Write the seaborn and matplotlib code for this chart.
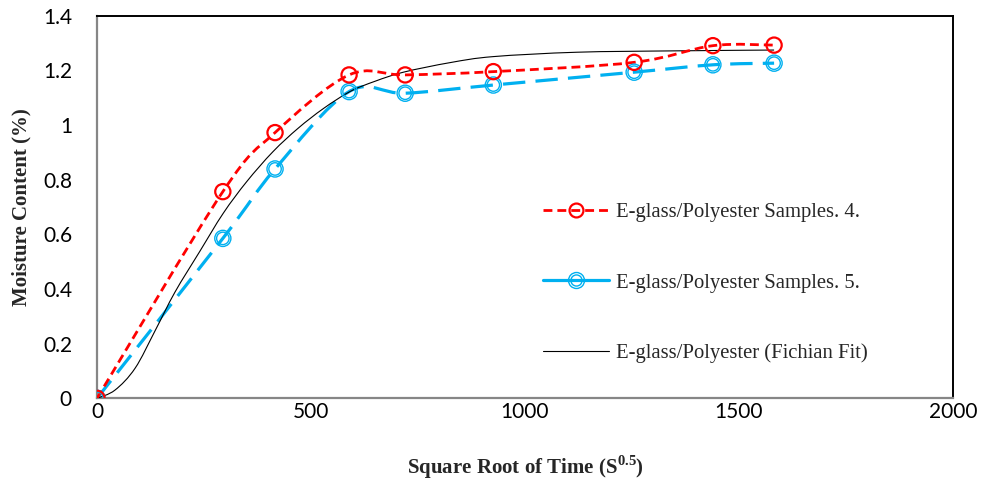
import numpy as np
import pandas as pd
import matplotlib
matplotlib.use("Agg")
import matplotlib.pyplot as plt
from matplotlib.path import Path
from matplotlib.patches import PathPatch
from matplotlib.lines import Line2D
from matplotlib.legend_handler import HandlerTuple
import seaborn as sns

# ---- data ----
time_s4 = [0, 294, 416, 589, 720, 926, 1255, 1439, 1582]
moist_s4 = [0, 0.756, 0.972, 1.183, 1.183, 1.195, 1.229, 1.290, 1.292]
time_s5 = [0, 294, 416, 589, 720, 926, 1255, 1439, 1582]
moist_s5 = [0, 0.585, 0.839, 1.122, 1.116, 1.146, 1.193, 1.220, 1.226]
time_fit = [0, 42, 89, 136, 182, 240, 295, 350, 411, 470, 529, 591, 650, 716, 825, 926, 1121, 1350, 1582]
moist_fit = [0, 0.030, 0.110, 0.248, 0.388, 0.537, 0.677, 0.793, 0.902, 0.988, 1.060, 1.122, 1.160, 1.193, 1.228, 1.250, 1.266, 1.271, 1.274]
x_ticks = [0, 500, 1000, 1500, 2000]
y_ticks = [0, 0.2, 0.4, 0.6, 0.8, 1.0, 1.2, 1.4]
y_tick_labels = ["0", "0.2", "0.4", "0.6", "0.8", "1", "1.2", "1.4"]
labels = ["E-glass/Polyester Samples. 4.",
          "E-glass/Polyester Samples. 5.",
          "E-glass/Polyester (Fichian Fit)"]

RED = "#FF0000"
BLUE = "#00B0F0"

sns.set_theme(style="white")
plt.rcParams["font.family"] = ["Lato", "DejaVu Sans"]
plt.rcParams["mathtext.fontset"] = "custom"
plt.rcParams["mathtext.rm"] = "Liberation Serif"
plt.rcParams["mathtext.bf"] = "Liberation Serif:bold"

fig = plt.figure(figsize=(9.82, 4.83), dpi=100)
ax = fig.add_axes([97 / 982, 1 - 398.3 / 483, (953 - 97) / 982, (398.3 - 15.6) / 483])


def smooth_path(xs, ys):
    """Excel-like smoothed line: Catmull-Rom converted to cubic Bezier segments."""
    pts = np.column_stack([xs, ys]).astype(float)
    n = len(pts)
    verts = [pts[0]]
    codes = [Path.MOVETO]
    for i in range(n - 1):
        p0 = pts[i - 1] if i > 0 else pts[i]
        p1 = pts[i]
        p2 = pts[i + 1]
        p3 = pts[i + 2] if i + 2 < n else pts[i + 1]
        c1 = p1 + (p2 - p0) / 6.0
        c2 = p2 - (p3 - p1) / 6.0
        verts += [c1, c2, p2]
        codes += [Path.CURVE4] * 3
    return Path(verts, codes)


# fit curve (thin black)
ax.add_patch(PathPatch(smooth_path(time_fit, moist_fit), facecolor="none",
                       edgecolor="black", lw=0.8, zorder=3))
# sample 5 (blue long dash)
ax.add_patch(PathPatch(smooth_path(time_s5, moist_s5), facecolor="none",
                       edgecolor=BLUE, lw=2.3, linestyle=(0, (7, 3.2)), zorder=2))
# sample 4 (red short dash)
ax.add_patch(PathPatch(smooth_path(time_s4, moist_s4), facecolor="none",
                       edgecolor=RED, lw=2.0, linestyle=(0, (3.2, 1.8)), zorder=4))

df4 = pd.DataFrame({"t": time_s4, "m": moist_s4})
df5 = pd.DataFrame({"t": time_s5, "m": moist_s5})
sns.scatterplot(data=df5, x="t", y="m", ax=ax, marker="o", s=135,
                facecolors="none", edgecolor=BLUE, linewidth=1.0, zorder=5)
sns.scatterplot(data=df5, x="t", y="m", ax=ax, marker="o", s=80,
                facecolors="none", edgecolor=BLUE, linewidth=1.0, zorder=5)
sns.scatterplot(data=df4, x="t", y="m", ax=ax, marker="o", s=120,
                facecolors="none", edgecolor=RED, linewidth=1.6, zorder=6)

ax.set_xlim(0, 2000)
ax.set_ylim(0, 1.4)
ax.set_xticks(x_ticks)
ax.set_xticklabels([str(v) for v in x_ticks])
ax.set_yticks(y_ticks)
ax.set_yticklabels(y_tick_labels)
ax.tick_params(axis="both", direction="in", length=5, width=1, color="#868686",
               labelsize=15, labelcolor="black")
ax.tick_params(axis="y", pad=18)
ax.tick_params(axis="x", pad=3)

for side in ["left", "bottom"]:
    ax.spines[side].set_color("#868686")
    ax.spines[side].set_linewidth(1.6)
for side in ["top", "right"]:
    ax.spines[side].set_color("black")
    ax.spines[side].set_linewidth(1.4)
    ax.spines[side].set_visible(True)

ax.set_xlabel(r"Square Root of Time (S$^{\mathbf{0.5}}$)", family="Liberation Serif",
              fontweight="bold", fontsize=15)
ax.set_ylabel("Moisture Content (%)", family="Liberation Serif",
              fontweight="bold", fontsize=15)
ax.xaxis.set_label_coords(0.5, -0.145)
ax.yaxis.set_label_coords(-0.077, 0.5)

h4 = Line2D([], [], color=RED, lw=2.0, linestyle=(0, (3.2, 1.8)), marker="o",
            markersize=10, markerfacecolor="none", markeredgecolor=RED, markeredgewidth=1.6)
h5a = Line2D([], [], color=BLUE, lw=2.3, linestyle="-", marker="o",
             markersize=11.5, markerfacecolor="none", markeredgecolor=BLUE, markeredgewidth=1.0)
h5b = Line2D([], [], color=BLUE, lw=0, marker="o",
             markersize=8, markerfacecolor="none", markeredgecolor=BLUE, markeredgewidth=1.0)
hf = Line2D([], [], color="black", lw=0.8)
leg = fig.legend([h4, (h5a, h5b), hf], labels,
                 handler_map={tuple: HandlerTuple(ndivide=1, pad=0)},
                 loc="upper left", bbox_to_anchor=(543 / 982, 1 - 203 / 483),
                 frameon=False, borderpad=0, borderaxespad=0,
                 handlelength=3.2, handletextpad=0.35, labelspacing=2.45,
                 prop={"family": "Liberation Serif", "size": 14.9})

fig.savefig("out.png", dpi=100)
